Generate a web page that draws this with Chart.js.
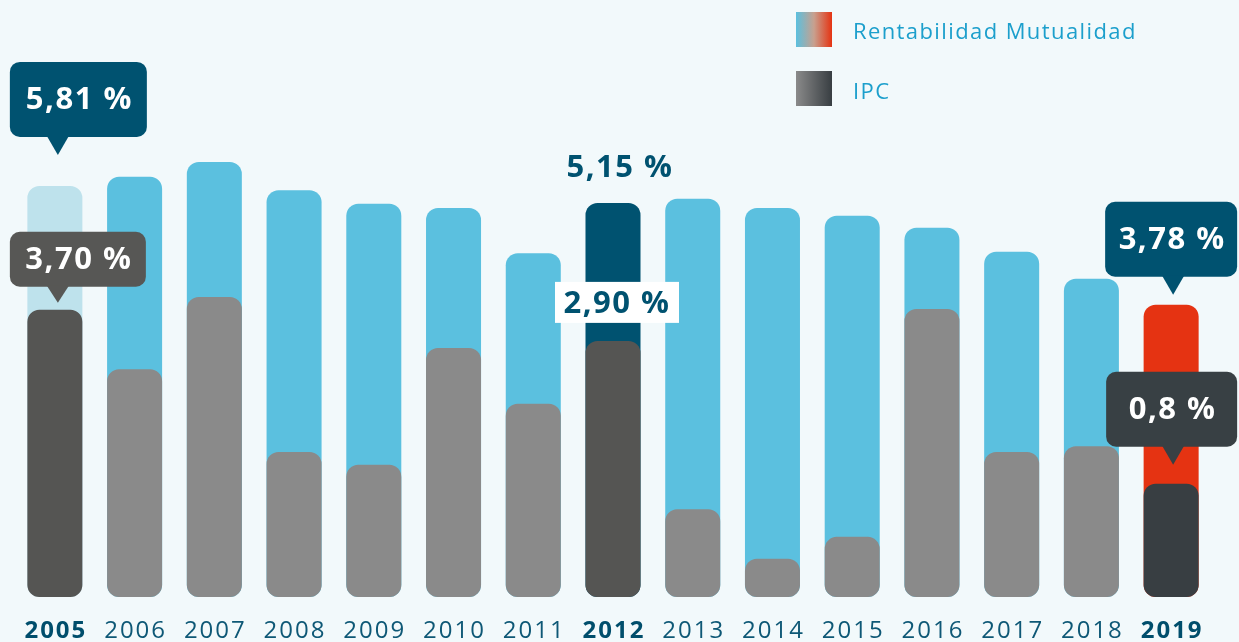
<!DOCTYPE html>
<html>
<head>
<meta charset="utf-8">
<script src="https://cdn.jsdelivr.net/npm/chart.js@4/dist/chart.umd.min.js"></script>
<style>
  html, body { margin: 0; padding: 0; background: #f2f9fb; }
  #wrap { width: 1239px; height: 642px; position: relative; }
</style>
</head>
<body>
<div id="wrap"><canvas id="mutualChart" width="1239" height="642"></canvas></div>
<script>
// datos (alturas, misma escala para las dos series)
const years = ['2005', '2006', '2007', '2008', '2009', '2010', '2011', '2012', '2013', '2014', '2015', '2016', '2017', '2018', '2019'];
const rentabilidad = [5.81, 5.94, 6.15, 5.75, 5.56, 5.50, 4.86, 5.57, 5.63, 5.50, 5.39, 5.22, 4.88, 4.50, 4.13];
const ipc = [4.06, 3.22, 4.24, 2.05, 1.87, 3.52, 2.73, 3.62, 1.24, 0.54, 0.85, 4.07, 2.05, 2.13, 1.60];
const highlightYears = ['2005', '2012', '2019'];
const labelRent = { '2005': '5,81 %', '2012': '5,15 %', '2019': '3,78 %' };
const labelIpc = { '2005': '3,70 %', '2012': '2,90 %', '2019': '0,8 %' };

const FONT = '"Open Sans", sans-serif';
const DARK_BLUE = '#005270';

const rentColors = years.map(y => y === '2005' ? '#bee2ec' : y === '2012' ? DARK_BLUE : y === '2019' ? '#e53312' : '#5bc0df');
const ipcColors = years.map(y => y === '2005' || y === '2012' ? '#555553' : y === '2019' ? '#383e42' : '#8a8a8a');

// globo con pico hacia abajo
const drawBubble = (ctx, left, bottom, w, h, tipX, tipY, color, text) => {
    const r = 10, top = bottom - h;
    ctx.save();
    ctx.fillStyle = color;
    ctx.beginPath();
    ctx.roundRect(left, top, w, h, r);
    ctx.fill();
    ctx.beginPath();
    ctx.moveTo(tipX - 11, bottom - 1);
    ctx.lineTo(tipX + 11, bottom - 1);
    ctx.lineTo(tipX, tipY);
    ctx.closePath();
    ctx.fill();
    ctx.fillStyle = '#ffffff';
    ctx.font = 'bold 31px ' + FONT;
    ctx.letterSpacing = '1.5px';
    ctx.textAlign = 'center';
    ctx.textBaseline = 'middle';
    ctx.fillText(text, left + w / 2 + 1, top + h / 2 + 1);
    ctx.restore();
};

const annotationsPlugin = {
    id: 'annotations',
    afterDatasetsDraw(chart) {
        const ctx = chart.ctx;
        const rentMeta = chart.getDatasetMeta(1);
        const ipcMeta = chart.getDatasetMeta(0);
        const i05 = years.indexOf('2005'), i12 = years.indexOf('2012'), i19 = years.indexOf('2019');

        // 2005
        let b = rentMeta.data[i05];
        drawBubble(ctx, b.x - 45, b.y - 49, 137, 75, b.x + 3, b.y - 31, DARK_BLUE, labelRent['2005']);
        b = ipcMeta.data[i05];
        drawBubble(ctx, b.x - 45, b.y - 23, 136, 55, b.x + 3, b.y - 7, '#575755', labelIpc['2005']);

        // 2012
        b = rentMeta.data[i12];
        ctx.save();
        ctx.font = 'bold 31px ' + FONT;
        ctx.letterSpacing = '1.5px';
        ctx.textAlign = 'center';
        ctx.textBaseline = 'middle';
        ctx.fillStyle = DARK_BLUE;
        ctx.fillText(labelRent['2012'], b.x + 7, b.y - 35);
        b = ipcMeta.data[i12];
        ctx.fillStyle = '#ffffff';
        ctx.fillRect(b.x - 58, b.y - 59, 124, 41);
        ctx.fillStyle = DARK_BLUE;
        ctx.fillText(labelIpc['2012'], b.x + 4, b.y - 37);
        ctx.restore();

        // 2019
        b = rentMeta.data[i19];
        drawBubble(ctx, b.x - 66, b.y - 28, 132, 75, b.x + 2, b.y - 10, DARK_BLUE, labelRent['2019']);
        b = ipcMeta.data[i19];
        drawBubble(ctx, b.x - 65, b.y - 37, 131, 75, b.x + 2, b.y - 19, '#384044', labelIpc['2019']);

        // años
        const xScale = chart.scales.x;
        ctx.save();
        ctx.textAlign = 'center';
        ctx.textBaseline = 'middle';
        ctx.letterSpacing = '2px';
        years.forEach((y, i) => {
            const bold = highlightYears.includes(y);
            ctx.font = (bold ? 'bold ' : '') + '24px ' + FONT;
            ctx.fillStyle = bold ? '#004e6c' : '#0e5876';
            ctx.fillText(y, xScale.getPixelForValue(i) + 1, 631);
        });
        ctx.restore();

        // leyenda
        ctx.save();
        let g = ctx.createLinearGradient(796, 0, 832, 0);
        g.addColorStop(0, '#5bc0df');
        g.addColorStop(0.5, '#c8a08e');
        g.addColorStop(1, '#e53312');
        ctx.fillStyle = g;
        ctx.fillRect(796, 12, 36, 35);
        g = ctx.createLinearGradient(796, 0, 832, 0);
        g.addColorStop(0, '#8a8a8a');
        g.addColorStop(1, '#383e42');
        ctx.fillStyle = g;
        ctx.fillRect(796, 71, 36, 35);
        ctx.fillStyle = '#1c9fcc';
        ctx.font = '22px ' + FONT;
        ctx.letterSpacing = '1.4px';
        ctx.textAlign = 'left';
        ctx.textBaseline = 'middle';
        ctx.fillText('Rentabilidad Mutualidad', 853, 33);
        ctx.fillText('IPC', 853, 93);
        ctx.restore();
    }
};

const ctx = document.getElementById('mutualChart').getContext('2d');
new Chart(ctx, {
    type: 'bar',
    data: {
        labels: years,
        datasets: [
            {
                label: 'IPC',
                data: ipc,
                backgroundColor: ipcColors,
                order: 0,
                grouped: false,
                borderRadius: 12,
                borderSkipped: false,
                barPercentage: 0.69,
                categoryPercentage: 1
            },
            {
                label: 'Rentabilidad Mutualidad',
                data: rentabilidad,
                backgroundColor: rentColors,
                order: 1,
                grouped: false,
                borderRadius: 12,
                borderSkipped: false,
                barPercentage: 0.69,
                categoryPercentage: 1
            }
        ]
    },
    options: {
        responsive: false,
        animation: false,
        layout: { padding: { top: 31, bottom: 45, left: 15, right: 28 } },
        plugins: { legend: { display: false }, tooltip: { enabled: false } },
        scales: {
            x: { display: false },
            y: { display: false, min: 0, max: 8 }
        }
    },
    plugins: [annotationsPlugin]
});
</script>
</body>
</html>
